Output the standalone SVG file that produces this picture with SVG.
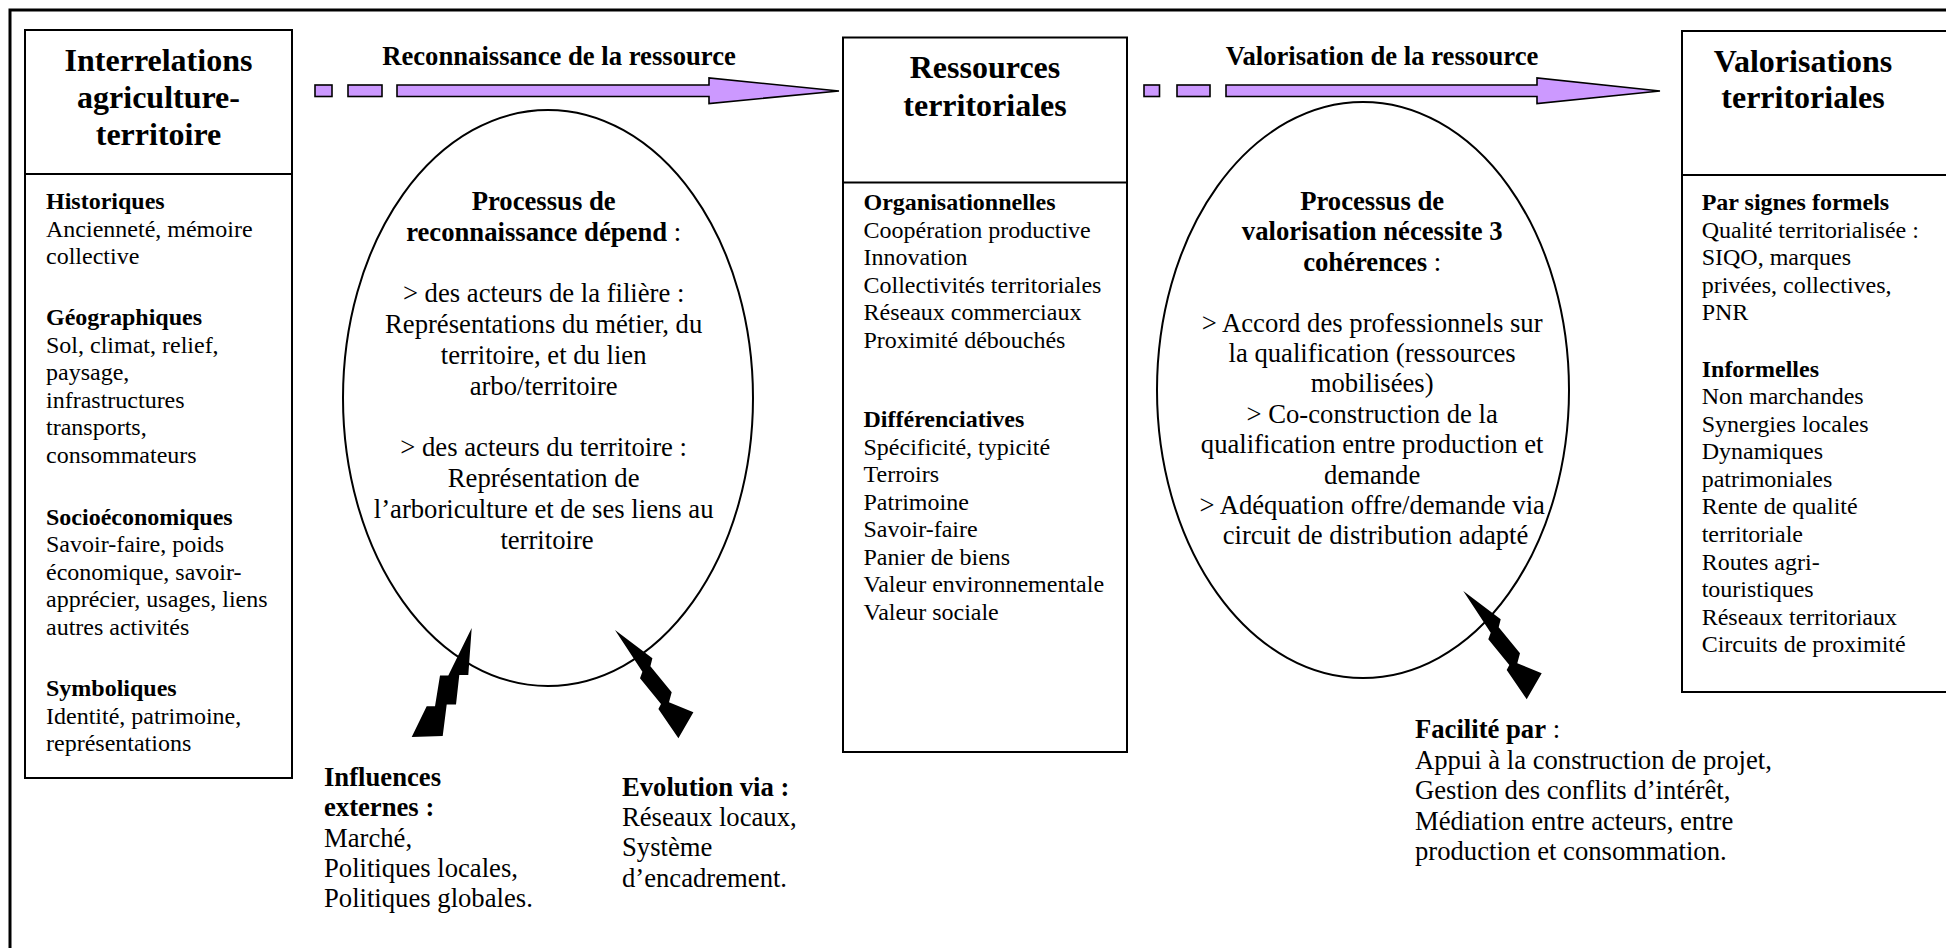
<svg xmlns="http://www.w3.org/2000/svg" width="1946" height="948" viewBox="0 0 1946 948">
<style>
text{font-family:"Liberation Serif","Times New Roman",serif;fill:#000}
.s24{font-size:24px}
.s27{font-size:26.67px}
.s32{font-size:32px;font-weight:bold}
.b{font-weight:bold}
.n{font-weight:normal}
.mid{text-anchor:middle}
.box{fill:#fff;stroke:#000;stroke-width:2}
.ell{fill:#fff;stroke:#000;stroke-width:2}
.arr{fill:#CC99FF;stroke:#000;stroke-width:1.6;stroke-linejoin:miter}
.bolt{fill:#000;stroke:none}
</style>
<rect width="1946" height="948" fill="#fff"/>
<rect x="10" y="10" width="1970" height="970" fill="none" stroke="#000" stroke-width="3"/>

<g id="n-interrelations">
<rect class="box" x="25" y="30" width="267" height="748"/>
<line x1="25" y1="174" x2="292" y2="174" stroke="#000" stroke-width="2"/>
<text class="s32 mid" x="158.5"><tspan x="158.5" y="71">Interrelations</tspan><tspan x="158.5" y="108">agriculture-</tspan><tspan x="158.5" y="145">territoire</tspan></text>
<text class="s24" x="46">
<tspan class="b" x="46" y="209">Historiques</tspan>
<tspan x="46" y="236.6">Ancienneté, mémoire</tspan>
<tspan x="46" y="264.2">collective</tspan>
<tspan class="b" x="46" y="325">Géographiques</tspan>
<tspan x="46" y="352.6">Sol, climat, relief,</tspan>
<tspan x="46" y="380.2">paysage,</tspan>
<tspan x="46" y="407.8">infrastructures</tspan>
<tspan x="46" y="435.4">transports,</tspan>
<tspan x="46" y="463">consommateurs</tspan>
<tspan class="b" x="46" y="524.5">Socioéconomiques</tspan>
<tspan x="46" y="552">Savoir-faire, poids</tspan>
<tspan x="46" y="579.6">économique, savoir-</tspan>
<tspan x="46" y="607.2">apprécier, usages, liens</tspan>
<tspan x="46" y="634.8">autres activités</tspan>
<tspan class="b" x="46" y="696">Symboliques</tspan>
<tspan x="46" y="723.6">Identité, patrimoine,</tspan>
<tspan x="46" y="751.2">représentations</tspan>
</text>
</g>

<g id="n-ressources">
<rect class="box" x="843" y="37.5" width="284" height="714.5"/>
<line x1="843" y1="182.5" x2="1127" y2="182.5" stroke="#000" stroke-width="2"/>
<text class="s32 mid"><tspan x="985" y="78">Ressources</tspan><tspan x="985" y="116">territoriales</tspan></text>
<text class="s24">
<tspan class="b" x="863.5" y="210">Organisationnelles</tspan>
<tspan x="863.5" y="237.5">Coopération productive</tspan>
<tspan x="863.5" y="265">Innovation</tspan>
<tspan x="863.5" y="292.5">Collectivités territoriales</tspan>
<tspan x="863.5" y="320">Réseaux commerciaux</tspan>
<tspan x="863.5" y="347.5">Proximité débouchés</tspan>
<tspan class="b" x="863.5" y="427">Différenciatives</tspan>
<tspan x="863.5" y="454.5">Spécificité, typicité</tspan>
<tspan x="863.5" y="482">Terroirs</tspan>
<tspan x="863.5" y="509.5">Patrimoine</tspan>
<tspan x="863.5" y="537">Savoir-faire</tspan>
<tspan x="863.5" y="564.5">Panier de biens</tspan>
<tspan x="863.5" y="592">Valeur environnementale</tspan>
<tspan x="863.5" y="619.5">Valeur sociale</tspan>
</text>
</g>

<g id="n-valorisations">
<rect class="box" x="1682" y="31" width="300" height="661"/>
<line x1="1682" y1="175" x2="1982" y2="175" stroke="#000" stroke-width="2"/>
<text class="s32 mid"><tspan x="1803" y="71.7">Valorisations</tspan><tspan x="1803" y="108.3">territoriales</tspan></text>
<text class="s24">
<tspan class="b" x="1701.7" y="210">Par signes formels</tspan>
<tspan x="1701.7" y="237.6">Qualité territorialisée :</tspan>
<tspan x="1701.7" y="265.2">SIQO, marques</tspan>
<tspan x="1701.7" y="292.8">privées, collectives,</tspan>
<tspan x="1701.7" y="320.4">PNR</tspan>
<tspan class="b" x="1701.7" y="376.5">Informelles</tspan>
<tspan x="1701.7" y="404">Non marchandes</tspan>
<tspan x="1701.7" y="431.6">Synergies locales</tspan>
<tspan x="1701.7" y="459.2">Dynamiques</tspan>
<tspan x="1701.7" y="486.8">patrimoniales</tspan>
<tspan x="1701.7" y="514.4">Rente de qualité</tspan>
<tspan x="1701.7" y="542">territoriale</tspan>
<tspan x="1701.7" y="569.6">Routes agri-</tspan>
<tspan x="1701.7" y="597.2">touristiques</tspan>
<tspan x="1701.7" y="624.8">Réseaux territoriaux</tspan>
<tspan x="1701.7" y="652.4">Circuits de proximité</tspan>
</text>
</g>

<g id="n-processus-reconnaissance">
<ellipse class="ell" cx="548" cy="398" rx="205" ry="288"/>
<text class="s27 mid">
<tspan class="b" x="547" y="210">Processus de</tspan>
<tspan x="547" y="240.8"><tspan class="b">reconnaissance dépend</tspan> :</tspan>
<tspan x="547" y="302.4">&gt; des acteurs de la filière :</tspan>
<tspan x="547" y="333.2">Représentations du métier, du</tspan>
<tspan x="547" y="364">territoire, et du lien</tspan>
<tspan x="547" y="394.8">arbo/territoire</tspan>
<tspan x="547" y="456.4">&gt; des acteurs du territoire :</tspan>
<tspan x="547" y="487.2">Représentation de</tspan>
<tspan x="547" y="518">l’arboriculture et de ses liens au</tspan>
<tspan x="547" y="548.8">territoire</tspan>
</text>
</g>

<g id="n-processus-valorisation">
<ellipse class="ell" cx="1363" cy="390" rx="206" ry="288"/>
<text class="s27 mid">
<tspan class="b" x="1375.5" y="210">Processus de</tspan>
<tspan class="b" x="1375.5" y="240.4">valorisation nécessite 3</tspan>
<tspan x="1375.5" y="270.8"><tspan class="b">cohérences</tspan> :</tspan>
<tspan x="1375.5" y="331.6">&gt; Accord des professionnels sur</tspan>
<tspan x="1375.5" y="362">la qualification (ressources</tspan>
<tspan x="1375.5" y="392.4">mobilisées)</tspan>
<tspan x="1375.5" y="422.8">&gt; Co-construction de la</tspan>
<tspan x="1375.5" y="453.2">qualification entre production et</tspan>
<tspan x="1375.5" y="483.6">demande</tspan>
<tspan x="1375.5" y="514">&gt; Adéquation offre/demande via</tspan>
<tspan x="1375.5" y="544.4">circuit de distribution adapté</tspan>
</text>
</g>

<g id="n-influences">
<text class="s27">
<tspan class="b" x="324" y="786">Influences</tspan>
<tspan class="b" x="324" y="816.3">externes :</tspan>
<tspan x="324" y="846.6">Marché,</tspan>
<tspan x="324" y="877">Politiques locales,</tspan>
<tspan x="324" y="907.3">Politiques globales.</tspan>
</text>
</g>

<g id="n-evolution">
<text class="s27">
<tspan class="b" x="622" y="795.5">Evolution via :</tspan>
<tspan x="622" y="825.8">Réseaux locaux,</tspan>
<tspan x="622" y="856.1">Système</tspan>
<tspan x="622" y="886.5">d’encadrement.</tspan>
</text>
</g>

<g id="n-facilite">
<text class="s27">
<tspan x="1415" y="738"><tspan class="b">Facilité par</tspan> :</tspan>
<tspan x="1415" y="768.5">Appui à la construction de projet,</tspan>
<tspan x="1415" y="799">Gestion des conflits d’intérêt,</tspan>
<tspan x="1415" y="829.5">Médiation entre acteurs, entre</tspan>
<tspan x="1415" y="860">production et consommation.</tspan>
</text>
</g>

<g id="connectors">
<g id="arrow-reconnaissance">
<rect class="arr" x="315" y="85" width="17" height="11.5"/>
<rect class="arr" x="348" y="85" width="34" height="11.5"/>
<polygon class="arr" points="397,85 709,85 709,78 839,91 709,103.5 709,96.5 397,96.5"/>
<text class="s27 b mid" x="559" y="65">Reconnaissance de la ressource</text>
</g>
<g id="arrow-valorisation">
<rect class="arr" x="1144" y="85" width="15.5" height="11.5"/>
<rect class="arr" x="1177" y="85" width="33" height="11.5"/>
<polygon class="arr" points="1226,85 1537,85 1537,78 1660,91 1537,103.5 1537,96.5 1226,96.5"/>
<text class="s27 b mid" x="1382" y="65">Valorisation de la ressource</text>
</g>
<polygon id="bolt-influences" class="bolt" points="471.7,628 468.3,675 459.3,675 456,704.6 446.7,704.6 442.7,736 411.7,737 426.7,706.3 435,706.3 440,675.6 448.3,675.6"/>
<polygon id="bolt-evolution" class="bolt" points="615,630 652.4,658.3 650.4,666.3 671.7,692.3 669,702.3 693.4,712.3 678.4,738.3 658.4,709 661,704 640,678.3 642.4,671.7"/>
<polygon id="bolt-facilite" class="bolt" points="1463.3,591 1500.7,619.3 1498.7,627.3 1520,653.3 1517.3,663.3 1541.7,673.3 1526.7,699.3 1506.7,670 1509.3,665 1488.3,639.3 1490.7,632.7"/>
</g>
</svg>
